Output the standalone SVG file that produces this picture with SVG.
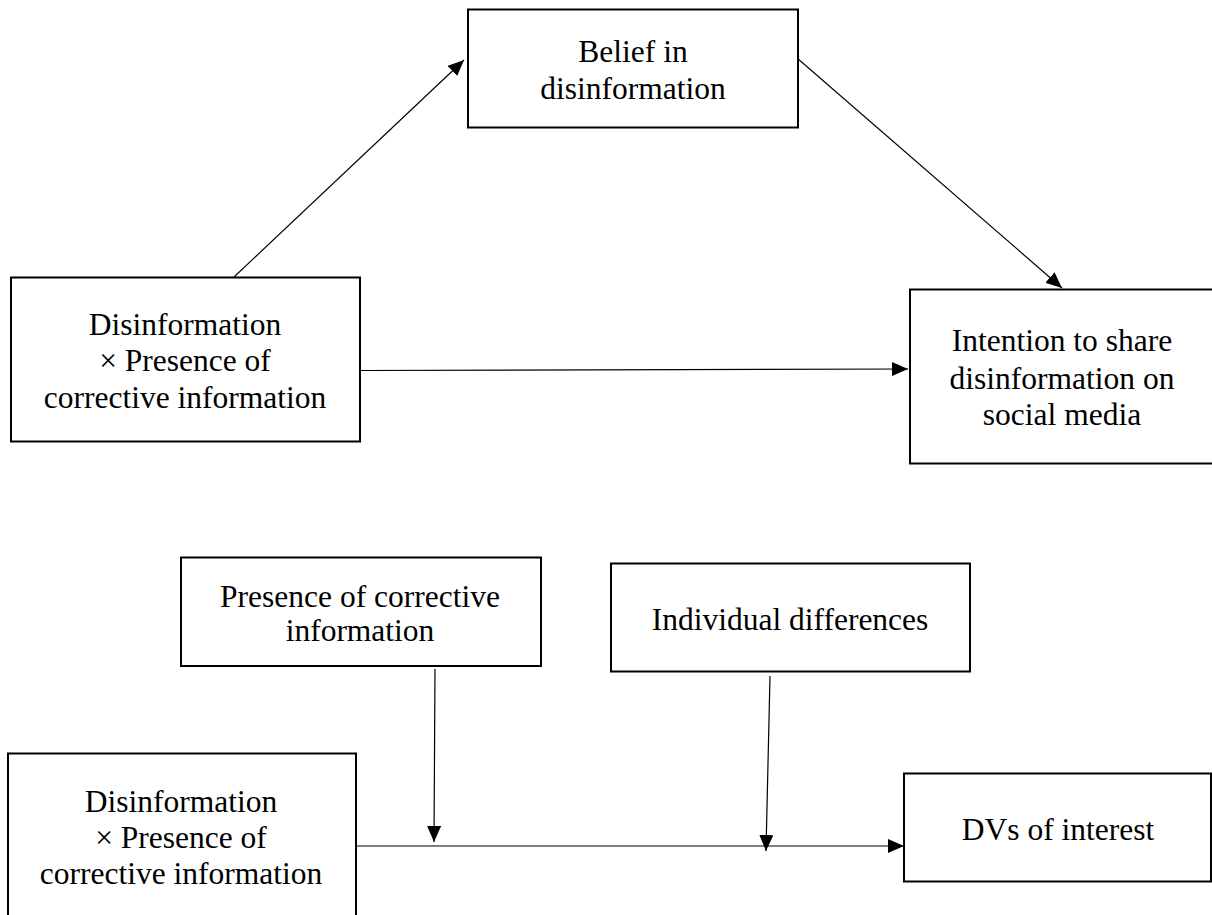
<svg xmlns="http://www.w3.org/2000/svg" width="1212" height="915" viewBox="0 0 1212 915">
<style>
.box{fill:#fff;stroke:#000;stroke-width:2}
.lbl{font-family:"Liberation Serif","Times New Roman",serif;font-size:31.5px;fill:#000;text-anchor:middle}
.conn{stroke:#000;stroke-width:1.2;fill:none;marker-end:url(#ah)}
</style>
<defs>
<marker id="ah" markerUnits="userSpaceOnUse" markerWidth="16" markerHeight="14" refX="16" refY="7" orient="auto">
<path d="M0,0 L16,7 L0,14 z" fill="#000"/>
</marker>
</defs>
<rect width="1212" height="915" fill="#fff"/>
<g id="connectors">
<line class="conn" x1="234" y1="277" x2="464" y2="60"/>
<line class="conn" x1="797" y1="58" x2="1062" y2="288"/>
<line class="conn" x1="361" y1="370.5" x2="908" y2="369"/>
<line class="conn" x1="435" y1="669" x2="434" y2="842"/>
<line class="conn" x1="770" y1="676" x2="766" y2="851"/>
<line class="conn" x1="357" y1="846" x2="904" y2="846"/>
</g>
<g id="belief">
<rect class="box" x="468" y="9.5" width="330" height="118"/>
<text class="lbl" x="633" y="62">Belief in</text>
<text class="lbl" x="633" y="98.5">disinformation</text>
</g>
<g id="disinfo-top">
<rect class="box" x="11" y="277.5" width="349" height="164"/>
<text class="lbl" x="185" y="335">Disinformation</text>
<text class="lbl" x="185" y="371">× Presence of</text>
<text class="lbl" x="185" y="408">corrective information</text>
</g>
<g id="intention">
<rect class="box" x="910" y="289.5" width="305" height="174"/>
<text class="lbl" x="1062" y="351">Intention to share</text>
<text class="lbl" x="1062" y="388.5">disinformation on</text>
<text class="lbl" x="1062" y="425">social media</text>
</g>
<g id="presence">
<rect class="box" x="181" y="557.5" width="360" height="108.5"/>
<text class="lbl" x="360" y="606.5">Presence of corrective</text>
<text class="lbl" x="360" y="641">information</text>
</g>
<g id="individual">
<rect class="box" x="611" y="563.5" width="359" height="108"/>
<text class="lbl" x="790" y="629.5">Individual differences</text>
</g>
<g id="disinfo-bottom">
<rect class="box" x="8" y="753.5" width="348" height="175"/>
<text class="lbl" x="181" y="811.5">Disinformation</text>
<text class="lbl" x="181" y="848">× Presence of</text>
<text class="lbl" x="181" y="884">corrective information</text>
</g>
<g id="dvs">
<rect class="box" x="904" y="773.5" width="307" height="108"/>
<text class="lbl" x="1058" y="839.5">DVs of interest</text>
</g>
</svg>
